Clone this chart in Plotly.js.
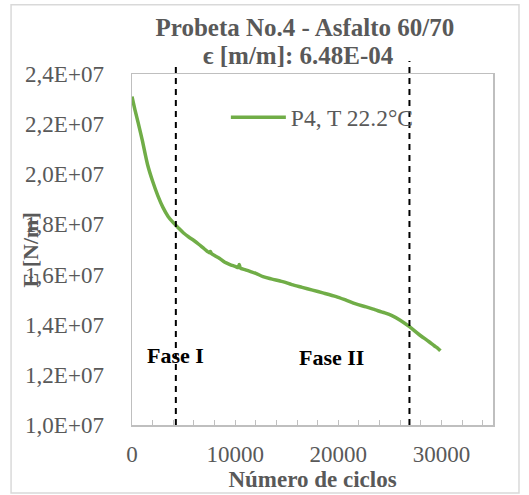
<!DOCTYPE html>
<html>
<head>
<meta charset="utf-8">
<script src="https://cdn.plot.ly/plotly-3.0.1.min.js"></script>
<style>html,body{margin:0;padding:0;background:#fff;}#chart{width:529px;height:495px;}</style>
</head>
<body>
<div id="chart"></div>
<script>
// Data
const cycles = [0, 300, 600, 1000, 1500, 2000, 2500, 3000, 3500, 4000, 4500, 5000, 5500, 6000, 6500, 7000, 7500, 7600, 7700, 8000, 8500, 9000, 9500, 10000, 10300, 10400, 10500, 11000, 11500, 12000, 12700, 13500, 14600, 15500, 16500, 17500, 18500, 19800, 20800, 21700, 22700, 23600, 24500, 25200, 26000, 26900, 27800, 28800, 29300, 29600, 29900];
const modulusE = [2.31e7, 2.255e7, 2.205e7, 2.135e7, 2.04e7, 1.972e7, 1.915e7, 1.868e7, 1.832e7, 1.807e7, 1.786e7, 1.766e7, 1.75e7, 1.736e7, 1.72e7, 1.703e7, 1.687e7, 1.692e7, 1.684e7, 1.676e7, 1.664e7, 1.649e7, 1.64e7, 1.633e7, 1.628e7, 1.64e7, 1.626e7, 1.619e7, 1.612e7, 1.605e7, 1.592e7, 1.583e7, 1.572e7, 1.56e7, 1.549e7, 1.538e7, 1.527e7, 1.512e7, 1.497e7, 1.483e7, 1.471e7, 1.459e7, 1.447e7, 1.436e7, 1.418e7, 1.392e7, 1.362e7, 1.332e7, 1.316e7, 1.308e7, 1.296e7];
const seriesName = "P4, T 22.2°C";
const phaseBoundaries = [4250, 26900];
const phaseLabels = ["Fase I", "Fase II"];
const phaseLabelX = [4250, 19300];
const yTickVals = [1.0e7, 1.2e7, 1.4e7, 1.6e7, 1.8e7, 2.0e7, 2.2e7, 2.4e7];
const yTickText = ["1,0E+07", "1,2E+07", "1,4E+07", "1,6E+07", "1,8E+07", "2,0E+07", "2,2E+07", "2,4E+07"];
const xTickVals = [0, 10000, 20000, 30000];
const xTickText = ["0", "10000", "20000", "30000"];
const titleLine1 = "Probeta No.4 - Asfalto 60/70";
const titleLine2 = "ϵ [m/m]: 6.48E-04";

const gray = "#595959";
const font = "Liberation Serif, Times New Roman, serif";

const trace = {
  x: cycles, y: modulusE, name: seriesName, type: "scatter", mode: "lines",
  line: {color: "#70ad47", width: 3.5, shape: "spline", smoothing: 0.8}
};

const shapes = [
  {type: "rect", xref: "paper", yref: "paper", x0: -0.335, x1: 1.072, y0: -0.194, y1: 1.197,
   line: {color: "#d9d9d9", width: 1.5}, fillcolor: "rgba(0,0,0,0)", layer: "below"},
  {type: "line", xref: "x", yref: "paper", x0: phaseBoundaries[0], x1: phaseBoundaries[0], y0: 0, y1: 1.023,
   line: {color: "#000", width: 2, dash: "6px,5px"}},
  {type: "line", xref: "x", yref: "paper", x0: phaseBoundaries[1], x1: phaseBoundaries[1], y0: 0, y1: 1.037,
   line: {color: "#000", width: 2, dash: "6px,5px"}}
];

const annotations = [
  {text: "<b>" + titleLine2 + "</b>", xref: "paper", yref: "paper", x: 0.4626, y: 1.054, xanchor: "center", yanchor: "middle",
   showarrow: false, font: {family: font, size: 25, color: gray}},
  {text: "<b>" + phaseLabels[0] + "</b>", x: phaseLabelX[0], y: 1.279e7, xref: "x", yref: "y", showarrow: false,
   font: {family: font, size: 22, color: "#000"}},
  {text: "<b>" + phaseLabels[1] + "</b>", x: phaseLabelX[1], y: 1.271e7, xref: "x", yref: "y", showarrow: false,
   font: {family: font, size: 22, color: "#000"}},
  {text: "<b>E [N/m]</b>", xref: "paper", yref: "paper", x: -0.28, y: 0.5, xanchor: "center", yanchor: "middle",
   textangle: -90, showarrow: false, font: {family: font, size: 22, color: gray}}
];

const layout = {
  width: 529, height: 495,
  margin: {l: 132, r: 36, t: 74, b: 70},
  paper_bgcolor: "#fff", plot_bgcolor: "#fff",
  font: {family: font, size: 23, color: gray},
  title: {text: "<b>" + titleLine1 + "</b>", x: 0.479, xref: "paper", xanchor: "center",
          y: 0.9455, yref: "container", yanchor: "middle", font: {family: font, size: 25, color: gray}},
  showlegend: true,
  legend: {x: 0.26, y: 0.939, xanchor: "left", yanchor: "top", bgcolor: "rgba(0,0,0,0)",
           font: {family: font, size: 23.5, color: gray}, itemwidth: 55},
  xaxis: {range: [0, 35000], tickvals: xTickVals, ticktext: xTickText, ticks: "inside", ticklen: 5, tickcolor: "#bfbfbf",
          minor: {dtick: 2000, tick0: 0, ticks: "inside", ticklen: 5, tickcolor: "#bfbfbf"},
          showgrid: false, zeroline: false, showline: true, mirror: true, linecolor: "#bfbfbf", linewidth: 1.5,
          ticklabelstandoff: 8, tickfont: {family: font, size: 23, color: gray},
          title: {text: "<b>Número de ciclos</b>", standoff: 4, font: {family: font, size: 23, color: gray}}},
  yaxis: {range: [1.0e7, 2.4e7], tickvals: yTickVals, ticktext: yTickText, ticks: "",
          showgrid: false, zeroline: false, showline: true, mirror: true, linecolor: "#bfbfbf", linewidth: 1.5,
          ticklabelstandoff: 22, tickfont: {family: font, size: 23, color: gray}},
  shapes: shapes, annotations: annotations
};

Plotly.newPlot("chart", [trace], layout, {displayModeBar: false, staticPlot: true});
</script>
</body>
</html>
